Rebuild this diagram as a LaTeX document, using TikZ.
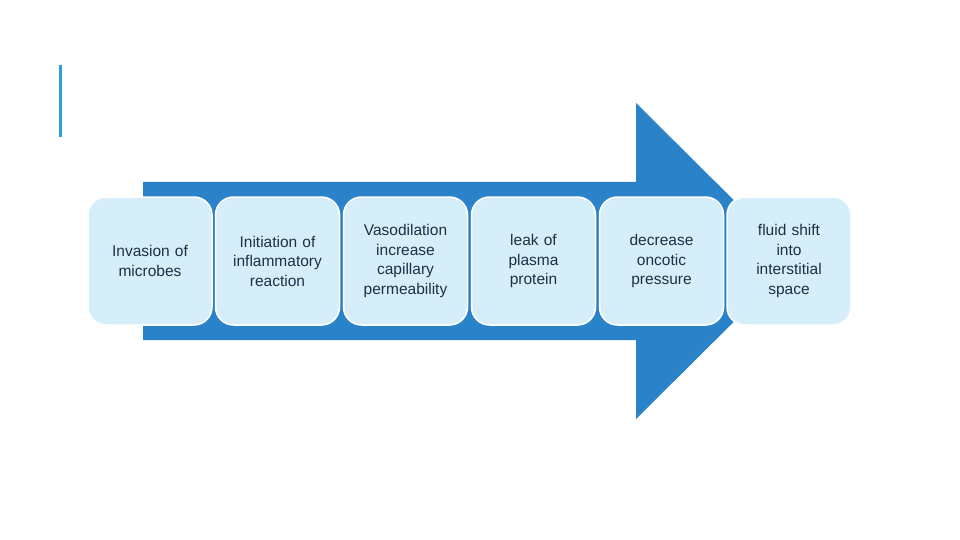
\documentclass[tikz,border=0pt]{standalone}
\usepackage{fontspec}
\setmainfont{Liberation Sans}
\definecolor{arrowblue}{HTML}{2A82C8}
\definecolor{boxblue}{HTML}{D5EEF9}
\definecolor{barblue}{HTML}{29A3D6}
\definecolor{txt}{HTML}{1F2F45}
\tikzset{stepbox/.style={draw=white,line width=1.5pt,fill=boxblue,rounded corners=18pt,minimum width=124pt,minimum height=128pt,text width=112pt,align=center,font=\fontsize{15.5}{19.5}\selectfont,text=txt,inner sep=0pt}}
\begin{document}
\begin{tikzpicture}[x=1pt,y=-1pt]
\useasboundingbox (0,0) rectangle (960,540);
\fill[white] (0,0) rectangle (960,540);
\draw[barblue,line width=3pt] (60,65) -- (60,137);
\fill[arrowblue] (143,182) -- (636,182) -- (636,103) -- (795,261) -- (636,419) -- (636,340) -- (143,340) -- cycle;
\node[stepbox] (b1) at (150,261) {Invasion of\\microbes};
\node[stepbox] (b2) at (277.5,261) {Initiation of\\inflammatory\\reaction};
\node[stepbox] (b3) at (405.5,261) {Vasodilation\\increase\\capillary\\permeability};
\node[stepbox] (b4) at (533.5,261) {leak of\\plasma\\protein};
\node[stepbox] (b5) at (661.5,261) {decrease\\oncotic\\pressure};
\node[stepbox] (b6) at (789,261) {fluid shift\\into\\interstitial\\space};
\end{tikzpicture}
\end{document}
